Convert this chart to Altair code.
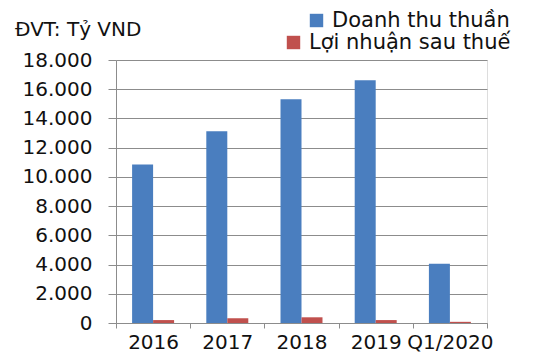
import altair as alt
import pandas as pd

years = ["2016", "2017", "2018", "2019", "Q1/2020"]
doanh_thu = [10850, 13130, 15310, 16620, 4050]
loi_nhuan = [200, 320, 390, 200, 80]
series = ["Doanh thu thuần", "Lợi nhuận sau thuế"]
colors = ["#4A7EBF", "#C0504D"]
y_ticks = [0, 2000, 4000, 6000, 8000, 10000, 12000, 14000, 16000, 18000]

rows = []
for nam, d, l in zip(years, doanh_thu, loi_nhuan):
    rows.append({"nam": nam, "chi_tieu": series[0], "gia_tri": d})
    rows.append({"nam": nam, "chi_tieu": series[1], "gia_tri": l})
df = pd.DataFrame(rows)

FONT = "DejaVu Sans"
GRID = "#8c8c8c"

x = alt.X(
    "nam:N", sort=years, title=None,
    scale=alt.Scale(paddingInner=0, paddingOuter=0),
    axis=alt.Axis(labelAngle=0, labelFontSize=20, labelFont=FONT, labelColor="#111111",
                  tickBand="extent", tickSize=5, tickColor=GRID, domainColor=GRID,
                  labelPadding=4, grid=False),
)
xo = alt.XOffset("chi_tieu:N", sort=series,
                 scale=alt.Scale(domain=series, paddingInner=0, paddingOuter=0.767))
y = alt.Y(
    "gia_tri:Q", title=None,
    scale=alt.Scale(domain=[0, 18000], nice=False),
    axis=alt.Axis(values=y_ticks,
                  labelExpr="replace(format(datum.value, ','), ',', '.')",
                  labelFontSize=20, labelFont=FONT, labelColor="#111111",
                  tickSize=8, labelPadding=16, gridColor=GRID, domainColor=GRID,
                  tickColor=GRID, grid=True),
)


def layer(i, lx, ly):
    return alt.Chart(df).transform_filter(
        alt.datum.chi_tieu == series[i]
    ).mark_bar().encode(
        x=x, xOffset=xo, y=y,
        color=alt.Color(
            "chi_tieu:N",
            scale=alt.Scale(domain=[series[i]], range=[colors[i]]),
            legend=alt.Legend(title=None, orient="none", legendX=lx, legendY=ly,
                              symbolType="square", symbolSize=180, labelFontSize=21,
                              labelFont=FONT, labelColor="#111111", labelOffset=5,
                              labelLimit=400,
                              padding=0, symbolStrokeWidth=0, symbolOpacity=1),
        ),
    )


chart = alt.layer(layer(0, 190, -50), layer(1, 167, -28)).resolve_scale(
    color="independent"
).properties(
    width=371, height=263,
    title=alt.TitleParams("ĐVT: Tỷ VND", anchor="start", frame="group", dx=-101,
                          offset=0, dy=46, fontSize=20, font=FONT, fontWeight="normal",
                          color="#111111", baseline="alphabetic"),
    padding={"left": 108, "top": 52, "right": 45, "bottom": 29},
    autosize=alt.AutoSizeParams(type="none"),
).configure_view(stroke=None).configure(background="white")

chart.save("out.html", embed_options={"renderer": "svg", "actions": False})
